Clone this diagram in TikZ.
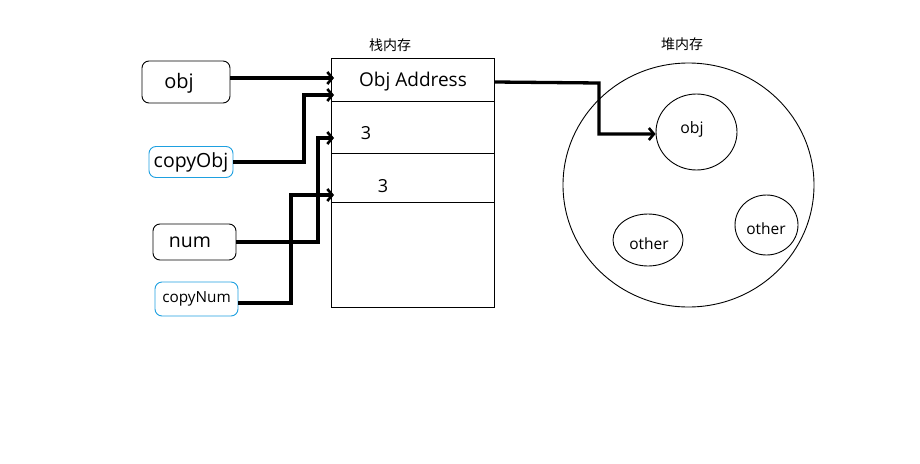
\documentclass[tikz,border=0pt]{standalone}
\usepackage{fontspec}
\setmainfont{Open Sans}
\newfontfamily\cjk{Noto Sans CJK SC}
\usetikzlibrary{arrows.meta,shapes.geometric}
\definecolor{cyanb}{HTML}{1EA0E0}
\tikzset{
  varbox/.style={draw=black, line width=0.9pt, rounded corners=7pt, inner sep=0pt},
  copybox/.style={draw=cyanb, line width=0.9pt, rounded corners=7pt, inner sep=0pt},
  link/.style={line width=3.3pt, -{Straight Barb[length=5pt,width=12pt,line width=2.6pt]}},
  bubble/.style={draw, line width=0.9pt, ellipse, inner sep=0pt},
}
\begin{document}
\begin{tikzpicture}[x=1pt,y=-1pt]
\useasboundingbox (0,0) rectangle (920,463);
% left variable boxes
\node[varbox, minimum width=88pt, minimum height=42pt] (obj) at (186,82) {};
\node at (179,83) {\fontsize{20}{20}\selectfont obj};
\node[copybox, minimum width=84pt, minimum height=31pt] (cobj) at (191,162) {\fontsize{19.5}{20}\selectfont copyObj};
\node[varbox, minimum width=83pt, minimum height=36pt] (num) at (194.5,242) {};
\node at (190,242) {\fontsize{19.5}{20}\selectfont num};
\node[copybox, minimum width=83pt, minimum height=34pt] (cnum) at (196.5,299) {\fontsize{15.3}{16}\selectfont copyNum};
% stack
\node[draw, line width=0.9pt, minimum width=163pt, minimum height=249pt, inner sep=0pt] (stack) at (412.5,182.5) {};
\draw[line width=0.9pt] (331,101) -- (494,101);
\draw[line width=0.9pt] (331,153) -- (494,153);
\draw[line width=0.9pt] (331,202) -- (494,202);
\node at (390,45) {\cjk\fontsize{14}{14}\selectfont 栈内存};
\node (addr) at (413,82) {\fontsize{19}{20}\selectfont Obj Address};
\node at (366,133) {\fontsize{18}{20}\selectfont 3};
\node at (383,186) {\fontsize{18}{20}\selectfont 3};
\coordinate (s1) at (334,78);
\coordinate (s2) at (334,95);
\coordinate (s3) at (334,138);
\coordinate (s4) at (334,195);
% heap
\node[bubble, minimum width=251pt, minimum height=244pt] (heap) at (688.5,185) {};
\node at (682,44) {\cjk\fontsize{14}{14}\selectfont 堆内存};
\node[bubble, minimum width=81pt, minimum height=76pt] (hobj) at (696.5,132) {};
\node at (692,129) {\fontsize{15.8}{16}\selectfont obj};
\node[bubble, minimum width=70pt, minimum height=52pt] (oth1) at (648,240) {};
\node at (649,244) {\fontsize{15.5}{16}\selectfont other};
\node[bubble, minimum width=63pt, minimum height=60pt] (oth2) at (766.5,225) {};
\node at (766,229) {\fontsize{15.5}{16}\selectfont other};
% connectors
\draw[link] (obj.east |- s1) -- (s1);
\draw[link] (cobj.east) -- (304,162) -- (304,95) -- (s2);
\draw[link] (num.east) -- (318,242) -- (318,138) -- (s3);
\draw[link] (cnum.east |- 0,303) -- (291,303) -- (291,195) -- (s4);
\draw[link] (stack.east |- addr) -- (599,83) -- (599,134) -- (hobj.west |- 0,134);
\end{tikzpicture}
\end{document}
